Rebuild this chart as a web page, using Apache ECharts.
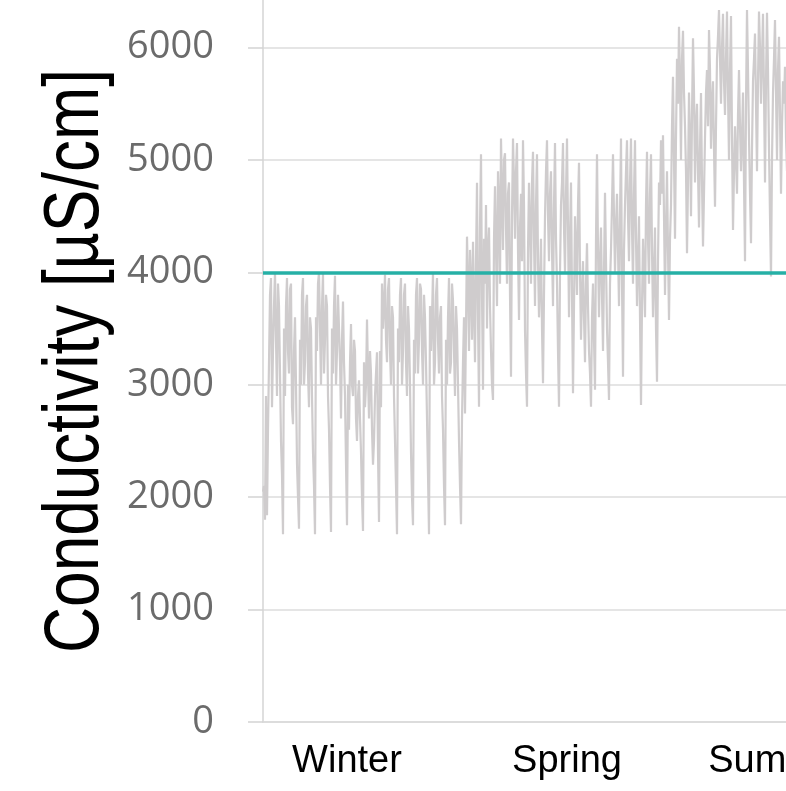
<!DOCTYPE html>
<html>
<head>
<meta charset="utf-8">
<script src="https://cdn.jsdelivr.net/npm/echarts@6/dist/echarts.min.js"></script>
<style>
html,body{margin:0;padding:0;background:#fff;}
#chart{width:786px;height:791px;}
</style>
</head>
<body>
<div id="chart"></div>
<script>
// Conductivity samples (µS/cm)
const winter = [
  2050,2100,1800,2900,1840,2600,3200,3800,3950,2800,3300,3700,4000,3400,2900,3900,3700,3100,2500,2200,
  1670,3500,2900,3700,3950,3300,3100,3850,3900,2800,2650,3300,3600,3000,2300,2000,1720,3400,3000,3800,
  3950,3000,3200,3700,3800,3100,2800,3600,3500,2900,2400,2100,1670,3600,3300,3900,4000,3500,3000,3700,
  3990,3100,3400,3800,3700,2900,2600,2100,1690,3500,3100,3700,3970,3000,3300,3800,3500,3200,2700,3400,
  3740,3200,2900,2300,1750,3000,2600,3200,3540,3000,2900,3400,3300,2700,2500,2900,3040,2700,2400,2000,
  1700,3200,2800,3000,3580,3100,2700,3300,3100,2600,2290,2500,2900,3100,3290,2400,1780,3300,2800,3900,
  3500,3700,3980,3400,3200,3850,3950,3300,3000,3700,3600,2900,2500,2100,1670,3500,3200,3800,3950,3000,
  3300,3800,3900,3200,2900,3700,3500,3000,2400,2000,1750,3400,3100,3800,3950,3100,3400,3900,3850,3300,
  3000,3800,3600,3200,2700,2200,1670,3700,3300,3600,4000,3000,3200,3800,3950,3400,3100,3600,3700,2900,
  2600,2100,1750,3400,3000,3600,3950,3100,3200,3900,3750,3300,2900,3700,3500,3000,2500,2100,1760,2700,
  3200
];
const spring = [
  3600,2745,3500,4318,3900,3300,4200,3900,3400,4273,3700,3200,4100,4797,3600,2805,4400,5050,3800,2955,4300,
  3900,4600,3500,4200,4400,3700,3300,3000,2865,4300,4767,4200,3700,4900,4600,3900,5190,4700,4200,5000,
  5060,4400,3900,4700,4800,3800,3072,4500,5190,4800,4300,4900,5150,4200,3577,4400,4700,4100,5175,4600,
  3488,3100,2805,4200,4797,4400,3900,4800,5074,4300,3700,4600,5050,4100,3600,3900,4300,3500,3013,3800,
  4500,4900,5175,4500,4100,4700,4900,4200,3700,4600,5150,4300,3900,3300,2805,4000,4600,4800,5150,4400,
  4000,4700,5190,4400,3600,4300,4800,3800,2925,3700,4500,4200,3800,4600,4975,4000,3400,3800,4100,3600,
  3200,3900,4258,3700,3300,3100,2805,3600,3900,3400,2955,4300,5050,4200,3600,4100,4400,3800,3300,4000,
  4708,4100,3500,3200,2865,3900,4200,4600,5050,4500,4000,4400,4700,4200,3700,4500,5190,3900,3072,4200,
  4600,4900,5175,4500,4100,4800,5190,4400,3900,4700,5175,4300,3700,4100,4500,3600,2820,3700,4300,4000,
  3600,4600,5074,4300,3900,4700,5050,4200,3600,4000,4400,3500,3028,4100,4800,4600,5175,4700,5220,4500,
  3800,4400,4900,4200,3577
];
const summer = [
  4300,4600,5300,5740,5000,4300,5200,5900,5500,6186,5700,5000,5900,6150,5600,5300,4900,4170,4800,5600,5200,
  4500,5400,6083,5600,4800,5300,5500,4900,4400,5100,5595,4800,4230,4700,5200,5600,5800,5300,6156,5800,
  5100,5500,5700,5100,4585,5300,5900,6100,6334,5900,5500,6000,6300,5700,5400,5900,6320,5600,5000,5800,
  6280,5200,4378,4900,5300,5000,4700,5400,5800,5300,4900,5200,5600,4800,4100,5500,6334,5800,5200,4700,
  4260,5100,5700,5900,6126,5500,4900,5700,6320,6000,5500,5900,6300,5600,4800,5700,6310,5800,5100,4500,
  3963,5000,5600,5900,6245,5600,5000,5800,6097,5400,4700,5300,5700,5500,5830,5200,4900
];
const threshold = 4000;
const seasonLabels = ['Winter', 'Spring', 'Summer'];
const seasonLabelIndex = [84, 304, 517];
const yTicks = [0, 1000, 2000, 3000, 4000, 5000, 6000];
const yTitle = 'Conductivity [µS/cm]';

const values = winter.concat(spring, summer);
const categories = values.map((_, i) => {
  const k = seasonLabelIndex.indexOf(i);
  return k >= 0 ? seasonLabels[k] : '';
});

const chart = echarts.init(document.getElementById('chart'), null, {renderer: 'canvas'});
chart.setOption({
  animation: false,
  backgroundColor: '#ffffff',
  grid: {left: 263, top: -3, bottom: 69, right: -1, containLabel: false, outerBoundsMode: 'none'},
  graphic: [{
    type: 'text',
    x: 76,
    y: 361,
    rotation: Math.PI / 2,
    scaleX: 0.82,
    scaleY: 1,
    silent: true,
    style: {
      text: yTitle,
      fill: '#000',
      fontFamily: 'Liberation Sans',
      fontSize: 78,
      align: 'center',
      verticalAlign: 'middle',
      textAlign: 'center',
      textVerticalAlign: 'middle'
    }
  }],
  xAxis: {
    type: 'category',
    data: categories,
    boundaryGap: false,
    axisLine: {show: true, lineStyle: {color: '#d9d9d9', width: 1.5}},
    axisTick: {show: false},
    splitLine: {show: false},
    axisLabel: {
      interval: (i, v) => v !== '',
      margin: 21,
      color: '#000',
      fontFamily: 'Liberation Sans',
      fontSize: 38
    }
  },
  yAxis: {
    type: 'value',
    min: 0,
    max: 6450,
    interval: 1000,
    axisLine: {show: true, lineStyle: {color: '#d4d4d4', width: 1.5}},
    axisTick: {show: true, length: 15, lineStyle: {color: '#d4d4d4', width: 1.5}},
    splitLine: {show: true, lineStyle: {color: '#dcdcdc', width: 1.5}},
    axisLabel: {
      margin: 49,
      color: '#6b6b6b',
      fontFamily: 'Open Sans',
      fontSize: 38,
      formatter: v => (yTicks.indexOf(v) >= 0 ? String(v) : '')
    }
  },
  series: [{
    type: 'line',
    data: values,
    showSymbol: false,
    symbol: 'none',
    sampling: null,
    lineStyle: {color: '#cfcccd', width: 2.2},
    markLine: {
      silent: true,
      symbol: ['none', 'none'],
      label: {show: false},
      lineStyle: {color: '#26b0a6', width: 3.5, type: 'solid'},
      data: [{yAxis: threshold}]
    }
  }]
});
</script>
</body>
</html>
